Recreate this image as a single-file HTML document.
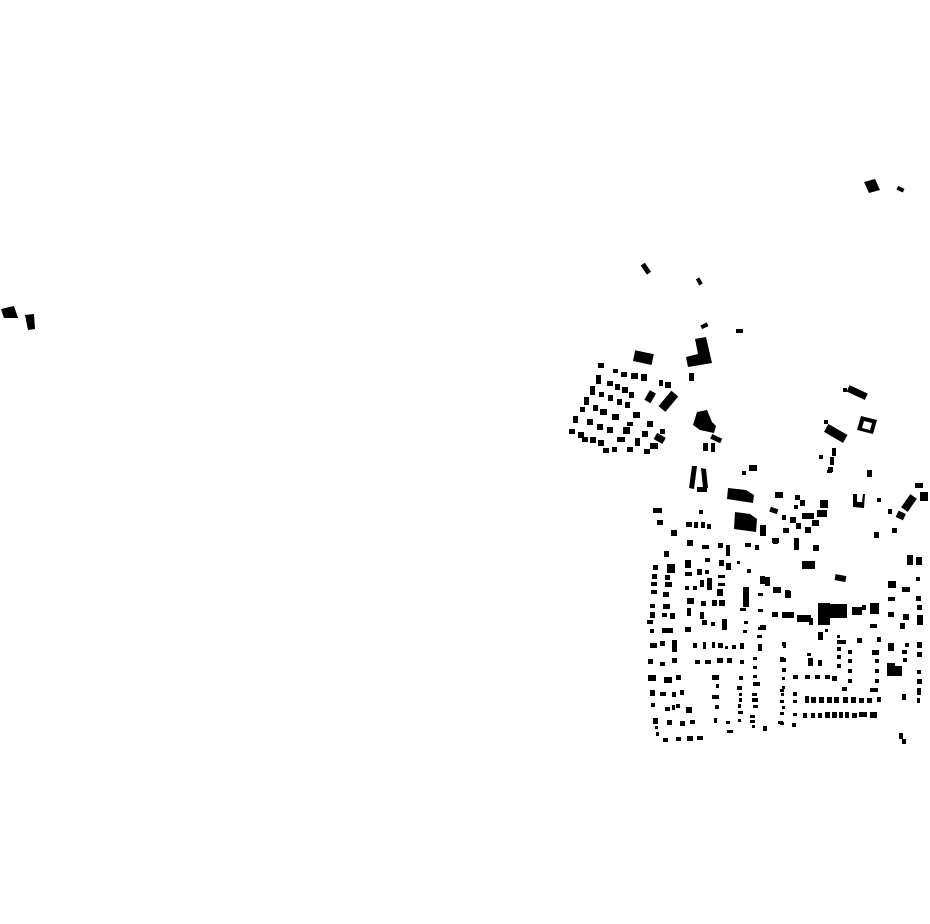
<!DOCTYPE html>
<html><head><meta charset="utf-8"><style>html,body{margin:0;padding:0;background:#fff}svg{display:block}</style></head>
<body>
<svg width="930" height="924" viewBox="0 0 930 924" xmlns="http://www.w3.org/2000/svg">
<rect width="930" height="924" fill="#fff"/>
<g fill="#000">
<!-- far west -->
<polygon points="1,309 14,306 18,318 4,318"/>
<polygon points="25,315 34,314 35,329 28,330"/>
<!-- north east isolated -->
<polygon points="864,182 875,179 880,190 869,193"/>
<rect x="897" y="187" width="7" height="4" transform="rotate(25 900 189)"/>
<rect x="643" y="263" width="5" height="11" transform="rotate(-35 646 268)"/>
<rect x="697" y="278" width="4" height="7" transform="rotate(-30 699 281)"/>
<rect x="701" y="324" width="7" height="4" transform="rotate(-25 704 326)"/>
<rect x="736" y="329" width="7" height="4"/>
<polygon points="695,339 706,337 712,363 688,367 686,357 698,354"/>
<rect x="689" y="373" width="5" height="8"/>
<rect x="634" y="352" width="19" height="11" transform="rotate(12 643 357)"/>
<rect x="664" y="391" width="9" height="20" transform="rotate(40 668 401)"/>
<rect x="659" y="380" width="4" height="6"/><rect x="665" y="382" width="6" height="6"/>
<polygon points="697,412 707,410 712,422 716,426 714,433 700,430 693,425"/>
<rect x="711" y="436" width="11" height="5" transform="rotate(25 716 438)"/>
<rect x="703" y="443" width="5" height="8"/><rect x="711" y="443" width="4" height="9"/>
<polygon points="692,466 697,466 694,489 689,488"/><polygon points="701,468 706,469 708,488 703,488"/>
<rect x="697" y="487" width="10" height="5"/>
<rect x="749" y="465" width="8" height="6"/><rect x="742" y="471" width="4" height="4"/>
<polygon points="728,488 746,490 754,495 753,503 727,499"/>
<polygon points="735,512 750,514 757,519 756,532 734,529"/>
<rect x="653" y="508" width="9" height="5"/><rect x="657" y="520" width="6" height="5"/>
<rect x="686" y="522" width="6" height="5"/><rect x="694" y="522" width="4" height="6"/><rect x="701" y="522" width="4" height="6"/><rect x="707" y="524" width="4" height="5"/>
<rect x="671" y="530" width="6" height="6"/><rect x="699" y="510" width="4" height="4"/>
<!-- NW grid -->
<rect x="598" y="363" width="6" height="5"/><rect x="613" y="369" width="5" height="4"/><rect x="621" y="372" width="6" height="5"/><rect x="631" y="373" width="7" height="6"/><rect x="641" y="374" width="6" height="7"/>
<rect x="596" y="375" width="5" height="9"/><rect x="607" y="381" width="6" height="5"/><rect x="615" y="384" width="5" height="6"/><rect x="622" y="387" width="6" height="6"/><rect x="629" y="392" width="5" height="6"/>
<rect x="590" y="386" width="5" height="9"/><rect x="599" y="392" width="5" height="5"/><rect x="608" y="395" width="5" height="6"/><rect x="617" y="399" width="5" height="6"/><rect x="625" y="402" width="5" height="6"/><rect x="647" y="391" width="7" height="11" transform="rotate(30 650 396)"/>
<rect x="584" y="397" width="5" height="8"/><rect x="593" y="405" width="5" height="6"/><rect x="600" y="409" width="7" height="6"/><rect x="612" y="414" width="7" height="6"/><rect x="633" y="412" width="7" height="6"/><rect x="580" y="407" width="5" height="5"/>
<rect x="573" y="416" width="5" height="7"/><rect x="587" y="419" width="6" height="6"/><rect x="597" y="424" width="6" height="6"/><rect x="607" y="427" width="6" height="6"/><rect x="623" y="427" width="7" height="7"/><rect x="627" y="422" width="6" height="4"/><rect x="647" y="421" width="6" height="6"/><rect x="642" y="431" width="6" height="6"/><rect x="660" y="429" width="5" height="5"/><rect x="655" y="435" width="10" height="7" transform="rotate(30 660 438)"/>
<rect x="569" y="429" width="6" height="5"/><rect x="578" y="432" width="6" height="6"/><rect x="582" y="437" width="6" height="5"/><rect x="590" y="437" width="6" height="6"/><rect x="598" y="440" width="6" height="6"/><rect x="617" y="437" width="8" height="5"/><rect x="635" y="438" width="5" height="8"/><rect x="650" y="443" width="8" height="6"/><rect x="627" y="447" width="6" height="5"/><rect x="603" y="448" width="6" height="5"/><rect x="612" y="447" width="5" height="5"/><rect x="644" y="449" width="6" height="5"/>
<!-- east northern -->
<rect x="847" y="389" width="20" height="7" transform="rotate(25 857 393)"/><rect x="843" y="388" width="4" height="4"/>
<path d="M861,416 L877,420 L873,434 L857,430 Z M864,421 L862,428 L870,430 L872,423 Z" fill-rule="evenodd"/>
<rect x="825" y="429" width="22" height="9" transform="rotate(30 836 433)"/><rect x="824" y="420" width="4" height="4"/>
<rect x="832" y="448" width="4" height="8"/><rect x="830" y="457" width="4" height="8"/><rect x="819" y="455" width="4" height="4"/><rect x="828" y="467" width="5" height="5"/><rect x="867" y="470" width="5" height="7"/>
<!-- zoom3 -->
<rect x="827" y="470" width="5" height="3"/>
<rect x="915" y="483" width="8" height="5"/><rect x="920" y="492" width="8" height="9"/>
<rect x="905" y="495" width="8" height="16" transform="rotate(35 909 503)"/>
<rect x="775" y="492" width="8" height="6"/><rect x="770" y="508" width="8" height="5" transform="rotate(20 774 510)"/><rect x="782" y="515" width="4" height="5"/>
<rect x="795" y="495" width="5" height="5"/><rect x="800" y="500" width="5" height="6"/><rect x="794" y="505" width="4" height="4"/>
<rect x="802" y="513" width="12" height="6"/><rect x="820" y="500" width="8" height="8"/><rect x="817" y="510" width="10" height="7"/><rect x="812" y="520" width="7" height="6"/><rect x="805" y="527" width="6" height="6"/><rect x="790" y="517" width="6" height="6"/><rect x="796" y="523" width="5" height="6"/><rect x="783" y="528" width="6" height="5"/><rect x="772" y="538" width="7" height="5"/><rect x="794" y="538" width="5" height="12"/><rect x="813" y="545" width="6" height="6"/><rect x="760" y="525" width="6" height="11"/>
<path d="M853,494 L857,494 L857,502 L862,502 L863,494 L865,494 L864,508 L853,507 Z"/>
<rect x="877" y="498" width="4" height="4"/><rect x="888" y="509" width="4" height="5"/><rect x="897" y="512" width="8" height="7" transform="rotate(25 901 515)"/><rect x="892" y="528" width="5" height="5"/><rect x="874" y="532" width="5" height="6"/>
<rect x="907" y="555" width="6" height="10"/><rect x="916" y="557" width="6" height="8"/>
<rect x="802" y="561" width="13" height="8"/><rect x="835" y="575" width="11" height="6" transform="rotate(10 840 578)"/>
<rect x="760" y="577" width="10" height="7"/><rect x="773" y="587" width="8" height="6"/><rect x="785" y="591" width="6" height="7"/>
<rect x="888" y="581" width="8" height="7"/><rect x="902" y="587" width="8" height="5"/><rect x="916" y="577" width="4" height="4"/><rect x="888" y="597" width="7" height="4"/><rect x="916" y="596" width="5" height="5"/><rect x="917" y="605" width="5" height="5"/>
<rect x="818" y="603" width="12" height="22"/><rect x="829" y="604" width="18" height="14"/>
<rect x="852" y="607" width="10" height="8"/><rect x="862" y="605" width="4" height="5"/><rect x="870" y="603" width="9" height="11"/>
<rect x="772" y="612" width="6" height="5"/><rect x="782" y="612" width="12" height="6"/><rect x="797" y="615" width="14" height="7"/><rect x="809" y="618" width="4" height="7"/>
<rect x="888" y="612" width="6" height="5"/><rect x="903" y="614" width="6" height="6"/><rect x="900" y="623" width="5" height="6"/><rect x="917" y="615" width="6" height="10"/><rect x="870" y="624" width="7" height="4"/><rect x="760" y="625" width="6" height="5"/>
<rect x="818" y="632" width="5" height="8"/><rect x="825" y="629" width="3" height="3"/><rect x="837" y="635" width="3" height="3"/><rect x="837" y="640" width="9" height="4"/><rect x="857" y="638" width="5" height="5"/><rect x="877" y="637" width="4" height="5"/><rect x="917" y="642" width="5" height="6"/><rect x="905" y="643" width="4" height="4"/><rect x="782" y="642" width="4" height="4"/><rect x="888" y="643" width="6" height="8"/><rect x="902" y="650" width="5" height="4"/><rect x="917" y="652" width="5" height="5"/>
<rect x="807" y="653" width="4" height="3"/><rect x="808" y="658" width="5" height="8"/><rect x="818" y="660" width="4" height="6"/><rect x="837" y="647" width="4" height="4"/><rect x="837" y="655" width="4" height="4"/><rect x="848" y="650" width="4" height="4"/><rect x="848" y="659" width="4" height="4"/><rect x="872" y="650" width="7" height="5"/><rect x="875" y="659" width="4" height="4"/><rect x="780" y="657" width="4" height="5"/><rect x="837" y="664" width="4" height="4"/>
<rect x="887" y="663" width="8" height="13"/><rect x="894" y="666" width="8" height="10"/><rect x="903" y="658" width="4" height="4"/>
<rect x="782" y="668" width="4" height="4"/>
<rect x="793" y="675" width="5" height="4"/><rect x="805" y="675" width="5" height="4"/><rect x="815" y="675" width="5" height="4"/><rect x="825" y="675" width="5" height="4"/><rect x="832" y="676" width="5" height="5"/>
<rect x="848" y="669" width="4" height="4"/><rect x="848" y="679" width="4" height="4"/><rect x="875" y="669" width="4" height="4"/><rect x="875" y="679" width="4" height="4"/><rect x="917" y="670" width="4" height="4"/><rect x="917" y="679" width="5" height="5"/>
<rect x="780" y="689" width="4" height="3"/><rect x="842" y="687" width="5" height="4"/><rect x="870" y="688" width="8" height="4"/><rect x="917" y="688" width="4" height="7"/><rect x="793" y="692" width="4" height="4"/><rect x="902" y="694" width="4" height="6"/>
<rect x="805" y="696" width="4" height="7"/><rect x="811" y="697" width="5" height="6"/><rect x="819" y="697" width="5" height="6"/><rect x="827" y="697" width="5" height="6"/><rect x="834" y="697" width="5" height="6"/><rect x="843" y="697" width="5" height="6"/><rect x="851" y="697" width="5" height="6"/><rect x="859" y="698" width="5" height="5"/><rect x="867" y="698" width="5" height="5"/><rect x="877" y="697" width="4" height="5"/>
<rect x="917" y="698" width="3" height="5"/><rect x="780" y="700" width="4" height="3"/><rect x="793" y="700" width="4" height="3"/>
<rect x="803" y="713" width="4" height="5"/><rect x="811" y="713" width="4" height="5"/><rect x="818" y="713" width="4" height="5"/><rect x="825" y="712" width="5" height="6"/><rect x="832" y="712" width="5" height="6"/><rect x="839" y="712" width="4" height="6"/><rect x="845" y="712" width="4" height="6"/><rect x="852" y="713" width="5" height="5"/><rect x="859" y="712" width="8" height="5"/><rect x="870" y="712" width="7" height="6"/>
<rect x="780" y="712" width="4" height="3"/><rect x="793" y="713" width="4" height="3"/><rect x="780" y="722" width="4" height="3"/><rect x="792" y="723" width="4" height="4"/><rect x="763" y="726" width="4" height="4"/>
<rect x="899" y="733" width="4" height="6"/><rect x="902" y="739" width="4" height="5"/>
<!-- zoom2 -->
<rect x="687" y="540" width="6" height="6"/><rect x="702" y="545" width="7" height="4"/><rect x="718" y="543" width="5" height="5"/><rect x="726" y="545" width="4" height="11"/><rect x="745" y="543" width="6" height="4"/><rect x="755" y="545" width="4" height="5"/><rect x="773" y="540" width="5" height="4"/>
<rect x="664" y="551" width="5" height="6"/>
<rect x="653" y="565" width="5" height="5"/><rect x="667" y="564" width="8" height="9"/><rect x="685" y="560" width="6" height="8"/><rect x="705" y="558" width="5" height="4"/><rect x="719" y="560" width="5" height="6"/><rect x="726" y="563" width="5" height="7"/><rect x="737" y="561" width="3" height="3"/><rect x="747" y="569" width="4" height="4"/>
<rect x="685" y="572" width="7" height="4"/><rect x="697" y="569" width="5" height="6"/><rect x="705" y="570" width="4" height="4"/><rect x="652" y="574" width="5" height="5"/><rect x="665" y="575" width="5" height="5"/><rect x="718" y="575" width="7" height="3"/><rect x="760" y="576" width="5" height="4"/><rect x="765" y="578" width="5" height="8"/>
<rect x="651" y="582" width="6" height="4"/><rect x="665" y="582" width="7" height="5"/><rect x="685" y="586" width="4" height="4"/><rect x="693" y="586" width="4" height="4"/><rect x="700" y="580" width="4" height="7"/><rect x="707" y="578" width="5" height="12"/><rect x="718" y="583" width="7" height="3"/>
<rect x="651" y="590" width="6" height="4"/><rect x="663" y="592" width="6" height="5"/><rect x="717" y="589" width="6" height="7"/><rect x="743" y="587" width="6" height="20"/><rect x="775" y="588" width="5" height="5"/><rect x="785" y="590" width="5" height="7"/><rect x="758" y="593" width="5" height="3"/>
<rect x="687" y="598" width="7" height="6"/><rect x="701" y="601" width="5" height="5"/><rect x="712" y="600" width="5" height="6"/><rect x="719" y="600" width="6" height="6"/><rect x="650" y="604" width="5" height="4"/><rect x="663" y="604" width="7" height="5"/>
<rect x="740" y="608" width="6" height="3"/><rect x="758" y="609" width="5" height="3"/><rect x="773" y="612" width="4" height="3"/><rect x="687" y="608" width="4" height="8"/><rect x="700" y="612" width="4" height="7"/>
<rect x="650" y="612" width="5" height="6"/><rect x="662" y="613" width="5" height="4"/><rect x="670" y="613" width="5" height="6"/>
<rect x="702" y="620" width="5" height="5"/><rect x="711" y="622" width="4" height="4"/><rect x="722" y="619" width="5" height="11"/><rect x="647" y="620" width="6" height="4"/><rect x="744" y="621" width="4" height="3"/>
<rect x="685" y="627" width="6" height="5"/><rect x="662" y="628" width="11" height="5"/><rect x="758" y="627" width="7" height="3"/><rect x="650" y="629" width="4" height="4"/><rect x="743" y="630" width="4" height="3"/><rect x="757" y="635" width="5" height="3"/>
<rect x="650" y="643" width="7" height="5"/><rect x="660" y="641" width="5" height="5"/><rect x="672" y="640" width="5" height="12"/><rect x="693" y="643" width="4" height="5"/><rect x="703" y="642" width="3" height="7"/><rect x="712" y="642" width="3" height="6"/><rect x="718" y="643" width="5" height="5"/><rect x="725" y="646" width="3" height="3"/><rect x="732" y="645" width="4" height="4"/><rect x="740" y="643" width="4" height="6"/>
<rect x="758" y="644" width="4" height="7"/><rect x="783" y="645" width="3" height="3"/>
<rect x="648" y="659" width="5" height="5"/><rect x="660" y="662" width="5" height="4"/><rect x="672" y="658" width="5" height="5"/><rect x="695" y="660" width="5" height="4"/><rect x="705" y="660" width="6" height="4"/><rect x="717" y="658" width="6" height="5"/><rect x="727" y="658" width="5" height="5"/><rect x="740" y="660" width="4" height="4"/><rect x="753" y="657" width="4" height="3"/><rect x="782" y="658" width="4" height="4"/>
<rect x="753" y="666" width="4" height="3"/><rect x="782" y="668" width="3" height="3"/>
<rect x="648" y="675" width="8" height="6"/><rect x="664" y="677" width="8" height="6"/><rect x="676" y="675" width="5" height="5"/><rect x="712" y="675" width="7" height="5"/><rect x="739" y="676" width="4" height="4"/><rect x="753" y="675" width="4" height="3"/><rect x="782" y="677" width="3" height="3"/>
<rect x="716" y="684" width="3" height="4"/><rect x="737" y="686" width="5" height="4"/><rect x="753" y="682" width="7" height="4"/><rect x="782" y="686" width="3" height="3"/>
<rect x="650" y="690" width="5" height="6"/><rect x="660" y="692" width="6" height="4"/><rect x="672" y="692" width="4" height="5"/><rect x="680" y="690" width="4" height="5"/><rect x="712" y="695" width="7" height="4"/><rect x="739" y="693" width="3" height="3"/><rect x="752" y="693" width="5" height="3"/><rect x="781" y="693" width="3" height="3"/>
<rect x="739" y="698" width="3" height="4"/><rect x="752" y="698" width="6" height="4"/>
<rect x="651" y="703" width="4" height="4"/><rect x="665" y="707" width="5" height="4"/><rect x="672" y="705" width="3" height="5"/><rect x="676" y="704" width="4" height="4"/><rect x="686" y="707" width="6" height="6"/><rect x="715" y="705" width="4" height="4"/><rect x="738" y="704" width="3" height="4"/><rect x="753" y="705" width="5" height="3"/><rect x="782" y="706" width="3" height="3"/>
<rect x="738" y="711" width="5" height="3"/><rect x="750" y="715" width="5" height="3"/>
<rect x="653" y="718" width="5" height="6"/><rect x="667" y="720" width="5" height="5"/><rect x="680" y="721" width="5" height="5"/><rect x="690" y="720" width="5" height="4"/><rect x="714" y="718" width="3" height="5"/><rect x="726" y="721" width="4" height="3"/><rect x="738" y="719" width="3" height="3"/><rect x="750" y="720" width="5" height="3"/><rect x="778" y="721" width="5" height="3"/>
<rect x="655" y="726" width="3" height="3"/><rect x="752" y="725" width="3" height="3"/><rect x="763" y="727" width="4" height="4"/><rect x="727" y="730" width="6" height="3"/><rect x="656" y="732" width="3" height="4"/>
<rect x="663" y="738" width="5" height="4"/><rect x="676" y="737" width="5" height="4"/><rect x="687" y="736" width="6" height="5"/><rect x="697" y="736" width="6" height="4"/>
</g>
</svg>
</body></html>
